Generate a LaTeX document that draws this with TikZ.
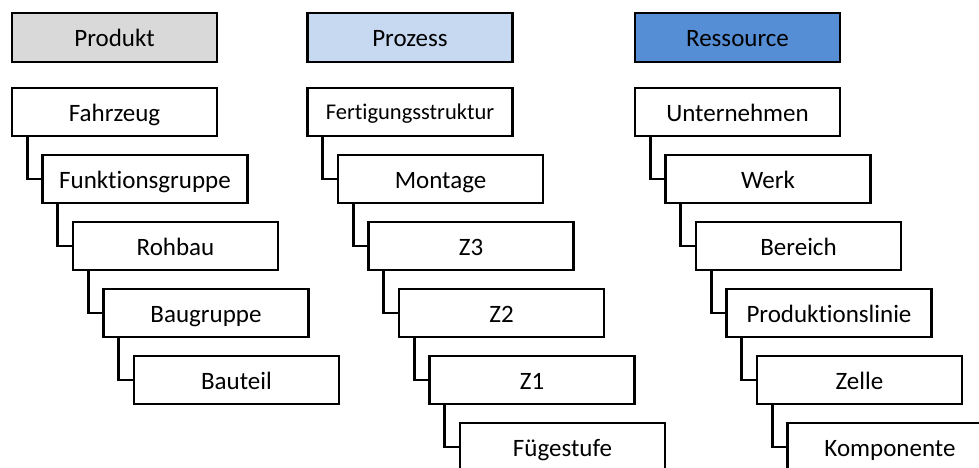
\documentclass[tikz,border=0pt]{standalone}
\usepackage{fontspec}
\setmainfont{Carlito}[Ligatures={NoCommon,NoContextual,NoRare},Contextuals=NoAlternate]
\usepackage{tikz}
\usetikzlibrary{positioning}
\usepackage{xcolor}
\definecolor{HeadGray}{HTML}{D9D9D9}
\definecolor{HeadLight}{HTML}{C6D9F1}
\definecolor{HeadBlue}{HTML}{558ED5}
\tikzset{
    % Node styles
    levelbox/.style={
        rectangle,
        draw=black,
        fill=white,
        line width=2.8pt,
        minimum width=205pt,
        minimum height=48pt,
        inner sep=0pt,
        text height=19pt,
        text depth=0pt,
        text centered,
        font=\fontsize{25pt}{28pt}\selectfont
    },
    headbox/.style={
        levelbox,
        minimum height=49pt
    },
    % Connector style
    treeline/.style={
        draw=black,
        line width=2.8pt,
        line join=miter
    }
}

\begin{document}
\begin{tikzpicture}[x=1pt,y=-1pt]
                \useasboundingbox (0,0) rectangle (979,468);
                \clip (0,0) rectangle (979,468);

                % Headers
                \node[headbox,fill=HeadGray] (produkt) at (114.5,37.5) {Produkt};
                \node[headbox,fill=HeadLight] (prozess) at (410,37.5) {Prozess};
                \node[headbox,fill=HeadBlue] (ressource) at (737.5,37.5) {Ressource};

                % Produkt levels
                \node[levelbox] (fahrzeug) at (114.5,112) {Fahrzeug};
                \node[levelbox] (funktion) at (145,179) {Funktionsgruppe};
                \node[levelbox] (rohbau) at (175.5,246) {Rohbau};
                \node[levelbox] (baugruppe) at (206,313) {Baugruppe};
                \node[levelbox] (bauteil) at (236.5,380) {Bauteil};

                % Prozess levels
                \node[levelbox,text height=15.5pt,font=\fontsize{22.5pt}{26pt}\selectfont] (fertigung) at (410,112) {Fertigungsstruktur};
                \node[levelbox] (montage) at (440.5,179) {Montage};
                \node[levelbox] (zdrei) at (471,246) {Z3};
                \node[levelbox] (zzwei) at (501.5,313) {Z2};
                \node[levelbox] (zeins) at (532,380) {Z1};
                \node[levelbox] (fuege) at (562.5,447) {Fügestufe};

                % Ressource levels
                \node[levelbox] (unternehmen) at (737.5,112) {Unternehmen};
                \node[levelbox] (werk) at (768,179) {Werk};
                \node[levelbox] (bereich) at (798.5,246) {Bereich};
                \node[levelbox] (linie) at (829,313) {Produktionslinie};
                \node[levelbox] (zelle) at (859.5,380) {Zelle};
                \node[levelbox] (komponente) at (890,447) {Komponente};

                % Tree connectors
                \draw[treeline] ([xshift=16.5pt]fahrzeug.south west) |- (funktion.west);
                \draw[treeline] ([xshift=16.5pt]funktion.south west) |- (rohbau.west);
                \draw[treeline] ([xshift=16.5pt]rohbau.south west) |- (baugruppe.west);
                \draw[treeline] ([xshift=16.5pt]baugruppe.south west) |- (bauteil.west);

                \draw[treeline] ([xshift=16.5pt]fertigung.south west) |- (montage.west);
                \draw[treeline] ([xshift=16.5pt]montage.south west) |- (zdrei.west);
                \draw[treeline] ([xshift=16.5pt]zdrei.south west) |- (zzwei.west);
                \draw[treeline] ([xshift=16.5pt]zzwei.south west) |- (zeins.west);
                \draw[treeline] ([xshift=16.5pt]zeins.south west) |- (fuege.west);

                \draw[treeline] ([xshift=16.5pt]unternehmen.south west) |- (werk.west);
                \draw[treeline] ([xshift=16.5pt]werk.south west) |- (bereich.west);
                \draw[treeline] ([xshift=16.5pt]bereich.south west) |- (linie.west);
                \draw[treeline] ([xshift=16.5pt]linie.south west) |- (zelle.west);
                \draw[treeline] ([xshift=16.5pt]zelle.south west) |- (komponente.west);
            \end{tikzpicture}
\end{document}
